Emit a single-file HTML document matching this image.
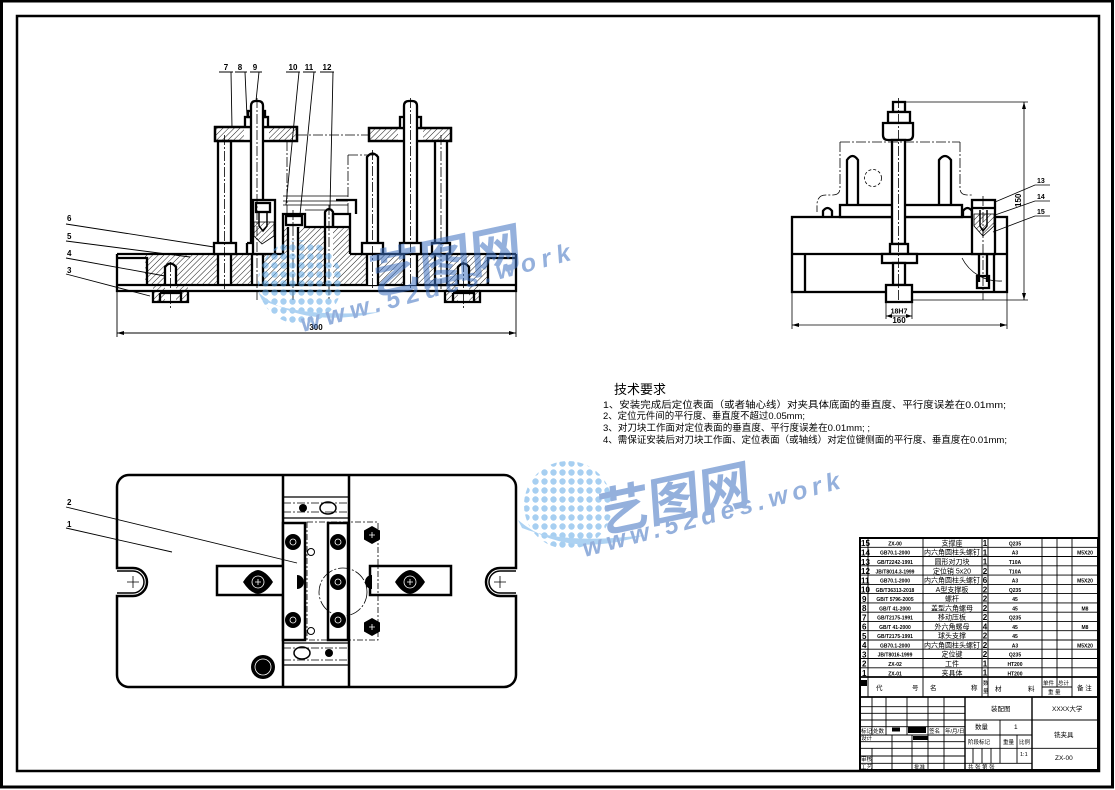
<!DOCTYPE html>
<html><head><meta charset="utf-8"><style>
html,body{margin:0;padding:0;background:#fff;}
svg{display:block;}
text{font-family:"Liberation Sans","Noto Sans CJK SC",sans-serif;}
</style></head><body>
<svg width="1115" height="790" viewBox="0 0 1115 790" xmlns="http://www.w3.org/2000/svg">
<defs>
<pattern id="h" width="4" height="4" patternUnits="userSpaceOnUse" patternTransform="rotate(45)"><line x1="0" y1="0" x2="0" y2="4" stroke="#000" stroke-width="0.9"/></pattern>
<pattern id="dots" width="9" height="9" patternUnits="userSpaceOnUse"><circle cx="4.5" cy="4.5" r="3.2" fill="#5fa8e6"/></pattern>
</defs>
<rect width="1115" height="790" fill="#fff"/>
<!-- frames -->
<rect x="1.5" y="1" width="1111" height="786" fill="none" stroke="#000" stroke-width="3"/>
<rect x="17" y="16" width="1082" height="755" fill="none" stroke="#000" stroke-width="2.5"/>

<!-- ================= FRONT VIEW ================= -->
<g>
<rect x="145" y="255" width="343" height="30" fill="url(#h)"/>
<rect x="283" y="227" width="67" height="28" fill="url(#h)"/>
<rect x="153" y="285" width="35" height="17" fill="url(#h)"/>
<rect x="445" y="285" width="35" height="17" fill="url(#h)"/>
<g fill="#fff">
<rect x="217" y="255" width="15" height="30"/>
<rect x="252" y="255" width="11" height="30"/>
<rect x="288" y="227" width="10" height="58"/>
<rect x="325" y="227" width="8" height="58"/>
<rect x="367" y="255" width="12" height="30"/>
<rect x="404" y="255" width="13" height="30"/>
<rect x="435" y="255" width="12" height="30"/>
<rect x="165" y="264" width="11" height="38"/>
<rect x="458" y="264" width="11" height="38"/>
</g>
<g fill="none" stroke="#000" stroke-width="2.3">
<path d="M117,254 H283 M350,254 H516 M117,254 V291 H516 V254 M117,285 H516"/>
<path d="M117,258 H147 V285 M516,258 H488 V285"/>
<path d="M153,291 V302 H188 V291 M445,291 V302 H480 V291"/>
<path d="M160,293 H181 V302 M160,293 V302 M453,293 H474 V302 M453,293 V302"/>
<path d="M165,285 V267 Q170.5,260 176,267 V285 M458,285 V267 Q463.5,260 469,267 V285"/>
<path d="M283,254 V214 H305 V227 H350 V254 M333,227 V214 H350 V227"/>
<rect x="286" y="216" width="16" height="9"/>
<path d="M288,227 V285 M298,227 V285 M325,285 V212 Q329,206 333,212 V227"/>
<!-- left post -->
<rect x="218" y="141" width="13" height="112" fill="#fff"/>
<rect x="214" y="243" width="22" height="11" fill="#fff"/>
<path d="M218,254 V285 M231,254 V285"/>
<!-- left clamp plate -->
<rect x="215" y="127" width="82" height="14" fill="url(#h)"/>
<rect x="244" y="127" width="25" height="14" fill="#fff" stroke="none"/>
<rect x="215" y="127" width="82" height="14"/>
<rect x="245" y="117" width="23" height="10" fill="#fff"/>
<rect x="248" y="111" width="17" height="6" fill="#fff"/>
<path d="M251,243 V106 Q251,101 256,101 H258 Q263,101 263,106 V200" fill="#fff"/>
<!-- left support block -->
<rect x="253" y="200" width="22" height="54" fill="#fff"/>
<path d="M254,222 L274,222 L274,236 L262,244 L254,236 Z" fill="url(#h)" stroke-width="0.8"/>
<rect x="256" y="203" width="14" height="9" fill="#fff"/>
<path d="M259,212 V226 L263,231 L267,226 V212" stroke-width="1.5"/>
<path d="M247,243 V254 M247,243 H253"/>
<path d="M252,254 V285 M263,254 V285"/>
<!-- right clamp plate -->
<rect x="369" y="128" width="82" height="13" fill="url(#h)"/>
<rect x="398" y="128" width="25" height="13" fill="#fff" stroke="none"/>
<rect x="369" y="128" width="82" height="13"/>
<rect x="400" y="117" width="21" height="11" fill="#fff"/>
<path d="M404,285 V106 Q404,101 409,101 H412 Q417,101 417,106 V285" fill="#fff"/>
<rect x="435" y="141" width="12" height="144" fill="#fff"/>
<path d="M367,285 V157 Q372.5,150 378,157 V285" fill="#fff"/>
<rect x="362" y="243" width="21" height="11" fill="#fff"/>
<rect x="400" y="243" width="21" height="11" fill="#fff"/>
<rect x="432" y="243" width="18" height="11" fill="#fff"/>
<path d="M336,200 H356 V214"/>
</g>
<!-- centerlines / phantom -->
<g fill="none" stroke="#000" stroke-width="0.8" stroke-dasharray="10,2,2,2">
<path d="M224.5,135 V290 M257,98 V300 M293,210 V300 M329,205 V300 M372.5,150 V290 M410.5,98 V290 M441,135 V290 M170.5,262 V308 M463.5,262 V308"/>
<path d="M297,135 H369 M287,141 V214 M348,155 V214 M348,155 H378"/>
</g>
<g stroke="#000" stroke-width="0.8" fill="none">
<path d="M283,196 H348 M283,201 H348 M283,205 H348 M305,210 H333"/>
</g>
<!-- dimension 300 -->
<g stroke="#000" stroke-width="0.9" fill="none">
<path d="M117,291 V337 M516,291 V337 M117,333 H516"/>
</g>
<path d="M117,333 l7,-2 v4z M516,333 l-7,-2 v4z" fill="#000"/>
<text x="316" y="330" font-size="8" font-weight="bold" text-anchor="middle">300</text>
<!-- top labels -->
<g font-size="8" font-weight="bold" text-anchor="middle">
<text x="226" y="70">7</text><text x="240" y="70">8</text><text x="255" y="70">9</text>
<text x="293" y="70">10</text><text x="309" y="70">11</text><text x="327" y="70">12</text>
</g>
<g stroke="#000" stroke-width="0.9" fill="none">
<path d="M219,72 H233 M235,72 H247 M250,72 H262 M286,72 H300 M303,72 H316 M320,72 H334"/>
<path d="M231,72 L232,128 M245,72 L247,117 M259,72 L256,101 M299,72 L286,205 M314,72 L300,215 M333,72 L330,208"/>
<path d="M66,224 L214,247 M66,241 L190,257 M66,258 L165,276 M66,274 L150,296"/>
</g>
<g font-size="8" font-weight="bold">
<text x="67" y="221">6</text><text x="67" y="239">5</text><text x="67" y="256">4</text><text x="67" y="273">3</text>
</g>
</g>

<!-- ================= SIDE VIEW ================= -->
<g fill="none" stroke="#000" stroke-width="2.3">
<rect x="792" y="217" width="215" height="75"/>
<path d="M792,254 H1007 M805,254 V292 M994,254 V292"/>
<rect x="840" y="205" width="122" height="12" fill="#fff"/>
<path d="M847,205 V160 Q852.5,152 858,160 V205 M939,205 V160 Q945,152 951,160 V205"/>
<path d="M823,217 V211 Q827.5,205 832,211 V217 M963,217 V211 Q967.5,205 972,211 V217"/>
<rect x="893" y="102" width="12" height="10" fill="#fff"/>
<rect x="888" y="112" width="22" height="11" fill="#fff"/>
<path d="M883,123 H913 V135 Q913,140 908,140 H888 Q883,140 883,135 Z" fill="#fff"/>
<rect x="892" y="140" width="13" height="104" fill="#fff"/>
<rect x="890" y="244" width="18" height="10" fill="#fff"/>
<rect x="882" y="254" width="35" height="9" fill="#fff"/>
<rect x="893" y="263" width="12" height="22" fill="#fff"/>
<rect x="886" y="285" width="26" height="17" fill="#fff"/>
<!-- right bolt -->
<rect x="972" y="200" width="23" height="54" fill="#fff"/>
<path d="M974,214 H994 V226 L983,236 L974,226 Z" fill="url(#h)" stroke-width="0.8"/>
<path d="M972,208 H995"/>
<path d="M980,210 V226 L983,231 L987,226 V210" stroke-width="1.5"/>
<path d="M979,254 V282 M987,254 V282 M977,276 H989 V288 H977 Z"/>
</g>
<g fill="none" stroke="#000" stroke-width="0.8">
<path d="M962,258 A42,42 0 0 0 1002,281"/>
<path d="M898.5,98 V300 M983,196 V300" stroke-dasharray="10,2,2,2"/>
<path d="M840,142 H960 M840,142 V188 Q840,195 833,195 H826 Q817,195 817,205 V212 M960,142 V188 Q960,195 967,195 H972" stroke-dasharray="10,2,2,2"/>
<circle cx="873" cy="178" r="8.5" stroke-dasharray="3,2"/>
<path d="M905,102 H1028 M912,300 H1028 M1024,102 V300"/>
<path d="M886,302 V319 M912,302 V319 M886,316 H912"/>
<path d="M792,292 V329 M1007,292 V329 M792,325 H1007"/>
<path d="M995,202 L1035,185 H1050 M995,215 L1035,201 H1050 M993,232 L1035,216 H1050"/>
</g>
<path d="M1024,102 l-2,7 h4z M1024,300 l-2,-7 h4z M886,316 l6,-2 v4z M912,316 l-6,-2 v4z M792,325 l7,-2 v4z M1007,325 l-7,-2 v4z" fill="#000"/>
<g font-size="8" font-weight="bold">
<text x="899" y="313.5" text-anchor="middle" font-size="7">18H7</text>
<text x="899" y="323" text-anchor="middle">160</text>
<text x="1021" y="207" transform="rotate(-90 1021 207)">150</text>
<text x="1037" y="183" font-size="7">13</text>
<text x="1037" y="199" font-size="7">14</text>
<text x="1037" y="214" font-size="7">15</text>
</g>

<!-- ================= TOP VIEW ================= -->
<g fill="none" stroke="#000" stroke-width="2.5">
<path d="M129,475 H504 A12,12 0 0 1 516,487 V568 H500 A14,14 0 0 0 500,596 H516 V675 A12,12 0 0 1 504,687 H129 A12,12 0 0 1 117,675 V596 H133 A14,14 0 0 0 133,568 H117 V487 A12,12 0 0 1 129,475 Z"/>
<path d="M117,571 H133 A11,11 0 0 1 133,593 H117 M516,571 H500 A11,11 0 0 0 500,593 H516" stroke-width="1.5"/>
<path d="M283,475 V687 M349,475 V687"/>
<path d="M283,497 H349 M283,518 H349 M283,643 H349 M283,665 H349" stroke-width="1.2"/>
<rect x="217" y="566" width="80" height="29" fill="#fff"/>
<rect x="370" y="566" width="81" height="29" fill="#fff"/>
<rect x="283" y="523" width="22" height="117" fill="#fff"/>
<rect x="328" y="523" width="20" height="117" fill="#fff"/>
<ellipse cx="328" cy="508" rx="8" ry="6" stroke-width="1.5"/>
<ellipse cx="302" cy="653" rx="8" ry="6" stroke-width="1.5"/>
</g>
<g fill="none" stroke="#000" stroke-width="0.8">
<path d="M127,582 h12 M133,576 v12 M494,582 h12 M500,576 v12"/>
<rect x="307" y="522" width="71" height="118" stroke-dasharray="6,2,2,2"/>
<circle cx="343" cy="592" r="24" stroke-dasharray="12,2,2,2"/>
<circle cx="311" cy="552" r="3.5" stroke-width="1"/>
<circle cx="311" cy="631" r="3.5" stroke-width="1"/>
<path d="M283,503 H349 M283,512 H349 M283,648 H349 M283,660 H349" stroke-dasharray="8,2,2,2"/>
</g>
<g fill="#000">
<circle cx="303" cy="508" r="4"/><circle cx="329" cy="653" r="4"/>
<path d="M243,582 Q250,571 258,570 Q266,571 273,582 Q266,593 258,594 Q250,593 243,582 Z"/>
<path d="M395,582 Q402,571 410,570 Q418,571 425,582 Q418,593 410,594 Q402,593 395,582 Z"/>
<circle cx="293" cy="542" r="8"/><circle cx="293" cy="620" r="8"/>
<circle cx="338" cy="542" r="8"/><circle cx="338" cy="582" r="8"/><circle cx="338" cy="620" r="8"/>
<path d="M297,575 A7,7 0 0 1 297,589 Z"/>
<path d="M372,575 A7,7 0 0 0 372,589 Z"/>
<polygon points="372,526 380,530.5 380,539.5 372,544 364,539.5 364,530.5"/>
<polygon points="372,618 380,622.5 380,631.5 372,636 364,631.5 364,622.5"/>
<circle cx="263" cy="667" r="12"/>
</g>
<g fill="none" stroke="#fff" stroke-width="0.8">
<circle cx="258" cy="582" r="6"/><circle cx="410" cy="582" r="6"/>
<circle cx="263" cy="667" r="8"/>
<path d="M255,582 h6 M258,579 v6 M407,582 h6 M410,579 v6 M369,535 h6 M372,532 v6 M369,627 h6 M372,624 v6"/>
<circle cx="293" cy="542" r="3"/><circle cx="293" cy="620" r="3"/><circle cx="338" cy="542" r="3"/><circle cx="338" cy="582" r="3"/><circle cx="338" cy="620" r="3"/>
</g>
<g stroke="#000" stroke-width="0.9" fill="none">
<path d="M66,507 L297,563 M66,528 L172,552"/>
</g>
<g font-size="8" font-weight="bold"><text x="67" y="505">2</text><text x="67" y="527">1</text></g>

<!-- ================= TECH REQUIREMENTS ================= -->
<g fill="#000">
<text x="614" y="394" font-size="13">技术要求</text>
<text x="603" y="408" font-size="9.5" textLength="403" lengthAdjust="spacingAndGlyphs">1、安装完成后定位表面（或者轴心线）对夹具体底面的垂直度、平行度误差在0.01mm;</text>
<text x="603" y="419" font-size="9.5" textLength="202" lengthAdjust="spacingAndGlyphs">2、定位元件间的平行度、垂直度不超过0.05mm;</text>
<text x="603" y="431" font-size="9.5" textLength="267" lengthAdjust="spacingAndGlyphs">3、对刀块工作面对定位表面的垂直度、平行度误差在0.01mm; ;</text>
<text x="603" y="443" font-size="9.5" textLength="404" lengthAdjust="spacingAndGlyphs">4、需保证安装后对刀块工作面、定位表面（或轴线）对定位键侧面的平行度、垂直度在0.01mm;</text>
</g>

<!-- ================= PARTS LIST ================= -->
<g stroke="#000" fill="none">
<rect x="860" y="538" width="238" height="232" stroke-width="2"/>
<g stroke-width="0.9">
<path d="M860,547.3 H1098 M860,556.5 H1098 M860,565.8 H1098 M860,575.1 H1098 M860,584.4 H1098 M860,593.6 H1098 M860,602.9 H1098 M860,612.2 H1098 M860,621.4 H1098 M860,630.7 H1098 M860,640 H1098 M860,649.2 H1098 M860,658.5 H1098 M860,667.8 H1098"/>
<path d="M868,538 V697 M923,538 V697 M982,538 V697 M988,538 V697 M1042,538 V697 M1057,538 V687 M1072,538 V697 M1042,687 H1072"/>
</g>
<path d="M860,677 H1098 M860,697 H1098" stroke-width="1.8"/>
<g stroke-width="0.9">
<path d="M965,697 V770 M1032,697 V770" stroke-width="1.4"/>
<path d="M860,706.7 H965 M860,713.3 H965 M860,720 H1098 M860,726.7 H965 M860,735 H1032 M860,741.7 H965 M860,748.3 H1098 M860,756 H965 M860,763.3 H1032"/>
<path d="M872,697 V735 M886,697 V735 M907,697 V735 M928,697 V770 M944,697 V770"/>
<path d="M872,748 V770 M892,735 V770 M912,735 V770"/>
<path d="M1000,720 V763 M1017,735 V763 M973,748 V763 M982,748 V763 M991,748 V763"/>
</g>
</g>
<g fill="#000"><rect x="892" y="727.5" width="8" height="4"/><rect x="908" y="727" width="18" height="6"/><rect x="913" y="736" width="15" height="4"/><rect x="861" y="680" width="6" height="6"/></g>
<g font-size="8" font-weight="bold">
<text x="861" y="546">15</text><text x="861" y="555.5">14</text><text x="861" y="564.8">13</text><text x="861" y="574">12</text><text x="861" y="583.3">11</text><text x="861" y="592.6">10</text><text x="862" y="601.8">9</text><text x="862" y="611">8</text><text x="862" y="620.3">7</text><text x="862" y="629.6">6</text><text x="862" y="638.9">5</text><text x="862" y="648.2">4</text><text x="862" y="657.4">3</text><text x="862" y="666.7">2</text><text x="862" y="676">1</text>
</g>
<g font-size="5" font-weight="bold" text-anchor="middle">
<text x="895" y="545.5">ZX-00</text><text x="895" y="554.7">GB70.1-2000</text><text x="895" y="564">GB/T2242-1991</text><text x="895" y="573.3">JB/T8014.3-1999</text><text x="895" y="582.6">GB70.1-2000</text><text x="895" y="591.8">GB/T36313-2018</text><text x="895" y="601.1">GB/T 5796-2005</text><text x="895" y="610.4">GB/T 41-2000</text><text x="895" y="619.6">GB/T2175-1991</text><text x="895" y="628.9">GB/T 41-2000</text><text x="895" y="638.2">GB/T2175-1991</text><text x="895" y="647.4">GB70.1-2000</text><text x="895" y="656.7">JB/T8016-1999</text><text x="895" y="666">ZX-02</text><text x="895" y="675.3">ZX-01</text>
</g>
<g font-size="7" text-anchor="middle">
<text x="952" y="545.5">支撑座</text><text x="952" y="554.7">内六角圆柱头螺钉</text><text x="952" y="564">圆形对刀块</text><text x="952" y="573.3">定位销 5x20</text><text x="952" y="582.6">内六角圆柱头螺钉</text><text x="952" y="591.8">A型支撑板</text><text x="952" y="601.1">螺杆</text><text x="952" y="610.4">盖型六角螺母</text><text x="952" y="619.6">移动压板</text><text x="952" y="628.9">外六角螺母</text><text x="952" y="638.2">球头支撑</text><text x="952" y="647.4">内六角圆柱头螺钉</text><text x="952" y="656.7">定位键</text><text x="952" y="666">工件</text><text x="952" y="675.3">夹具体</text>
</g>
<g font-size="8" font-weight="bold" text-anchor="middle">
<text x="985" y="546">1</text><text x="985" y="555.3">1</text><text x="985" y="564.5">1</text><text x="985" y="573.8">2</text><text x="985" y="583">6</text><text x="985" y="592.3">2</text><text x="985" y="601.6">2</text><text x="985" y="610.8">2</text><text x="985" y="620.1">2</text><text x="985" y="629.4">4</text><text x="985" y="638.6">2</text><text x="985" y="647.9">2</text><text x="985" y="657.2">2</text><text x="985" y="666.4">1</text><text x="985" y="675.7">1</text>
</g>
<g font-size="5" font-weight="bold" text-anchor="middle">
<text x="1015" y="545.5">Q235</text><text x="1015" y="554.7">A3</text><text x="1015" y="564">T10A</text><text x="1015" y="573.3">T10A</text><text x="1015" y="582.6">A3</text><text x="1015" y="591.8">Q235</text><text x="1015" y="601.1">45</text><text x="1015" y="610.4">45</text><text x="1015" y="619.6">Q235</text><text x="1015" y="628.9">45</text><text x="1015" y="638.2">45</text><text x="1015" y="647.4">A3</text><text x="1015" y="656.7">Q235</text><text x="1015" y="666">HT200</text><text x="1015" y="675.3">HT200</text>
<text x="1085" y="554.7">M5X20</text><text x="1085" y="582.6">M5X20</text><text x="1085" y="610.4">M8</text><text x="1085" y="628.9">M8</text><text x="1085" y="647.4">M5X20</text>
</g>
<g font-size="6.5">
<text x="876" y="690">代</text><text x="912" y="690">号</text><text x="930" y="690">名</text><text x="971" y="690">称</text>
<text x="983" y="685" font-size="5.5">数</text><text x="983" y="693" font-size="5.5">量</text>
<text x="995" y="691">材</text><text x="1028" y="691">料</text>
<text x="1043" y="685" font-size="5.5">单件</text><text x="1058" y="685" font-size="5.5">总计</text>
<text x="1048" y="694" font-size="5.5">重  量</text>
<text x="1077" y="690">备  注</text>
<text x="991" y="711">装配图</text><text x="1052" y="711">XXXX大学</text>
<text x="975" y="729">数量</text><text x="1014" y="729">1</text>
<text x="1054" y="737">铣夹具</text>
<text x="968" y="744" font-size="5.5">阶段标记</text><text x="1003" y="744" font-size="5.5">重量</text><text x="1019" y="744" font-size="5.5">比例</text>
<text x="1020" y="756" font-size="5.5">1:1</text><text x="1055" y="760">ZX-00</text>
<text x="968" y="769" font-size="5.5">共    张      第    张</text>
<text x="861" y="733" font-size="5.5">标记</text><text x="873" y="733" font-size="5.5">处数</text><text x="929" y="733" font-size="5.5">签名</text><text x="945" y="733" font-size="5.5">年/月/日</text>
<text x="861" y="740" font-size="5.5">设计</text><text x="861" y="761" font-size="5.5">审核</text><text x="861" y="769" font-size="5.5">工艺</text><text x="914" y="769" font-size="5.5">批准</text>
</g>

<!-- ================= WATERMARKS ================= -->
<g opacity="0.55">
<g>
<circle cx="300" cy="282" r="42" fill="url(#dots)"/>
<path d="M258,292 Q300,330 380,312 Q300,318 262,300 Z" fill="#6aaee8"/>
<text x="400" y="275" font-size="52" font-weight="bold" fill="#3d6fc0" transform="rotate(-12 465 245) skewX(-8)" font-family="'Noto Sans CJK SC',sans-serif">艺图网</text>
<text x="303" y="332" font-size="25" font-weight="bold" font-style="italic" fill="#3d6fc0" letter-spacing="6" transform="rotate(-15 303 332)">www.52des.work</text>
</g>
<g>
<circle cx="568" cy="505" r="44" fill="url(#dots)"/>
<path d="M518,520 Q565,560 645,535 Q565,545 522,528 Z" fill="#6aaee8"/>
<text x="662" y="507" font-size="52" font-weight="bold" fill="#3d6fc0" transform="rotate(-12 722 480) skewX(-8)" font-family="'Noto Sans CJK SC',sans-serif">艺图网</text>
<text x="585" y="557" font-size="25" font-weight="bold" font-style="italic" fill="#3d6fc0" letter-spacing="5" transform="rotate(-15 585 557)">www.52des.work</text>
</g>
</g>
</svg>
</body></html>
